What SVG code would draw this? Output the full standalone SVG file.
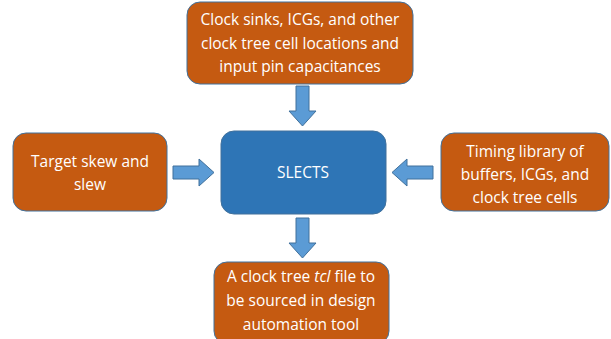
<svg xmlns="http://www.w3.org/2000/svg" width="611" height="339" viewBox="0 0 611 339">
<style>
.box{fill:#C55A11;stroke:#41719C;stroke-width:1}
.ctr{fill:#2E75B6;stroke:#41719C;stroke-width:1}
.arr{fill:#5B9BD5;stroke:#41719C;stroke-width:1}
text{font-family:"Open Sans","Liberation Sans",sans-serif;font-size:15.5px;fill:#fff;text-anchor:middle}
</style>
<rect width="611" height="339" fill="#fff"/>
<g id="connectors">
<path class="arr" d="M296,86 H309 V111 H316 L302.5,126 L289,111 H296 Z"/>
<path class="arr" d="M296,218 H309 V243 H316 L302.5,258 L289,243 H296 Z"/>
<path class="arr" d="M173,166 H199 V159 L214,172.5 L199,186 V179 H173 Z"/>
<path class="arr" d="M433,166 H407 V159 L392,172.5 L407,186 V179 H433 Z"/>
</g>
<g id="top">
<rect class="box" x="187" y="2" width="226" height="82" rx="13"/>
<text x="300" y="25">Clock sinks, ICGs, and other</text>
<text x="300" y="49">clock tree cell locations and</text>
<text x="300" y="72">input pin capacitances</text>
</g>
<g id="left">
<rect class="box" x="13" y="133" width="154" height="78" rx="13"/>
<text x="90" y="167">Target skew and</text>
<text x="90" y="190">slew</text>
</g>
<g id="center">
<rect class="ctr" x="221" y="131" width="165" height="83" rx="13"/>
<text x="303" y="178">SLECTS</text>
</g>
<g id="right">
<rect class="box" x="441" y="133" width="168" height="78" rx="13"/>
<text x="525" y="157">Timing library of</text>
<text x="525" y="180">buffers, ICGs, and</text>
<text x="525" y="203">clock tree cells</text>
</g>
<g id="bottom">
<rect class="box" x="214" y="262" width="175" height="82" rx="13"/>
<text x="301" y="282">A clock tree <tspan font-style="italic">tcl</tspan> file to</text>
<text x="301" y="306">be sourced in design</text>
<text x="301" y="330">automation tool</text>
</g>
</svg>
